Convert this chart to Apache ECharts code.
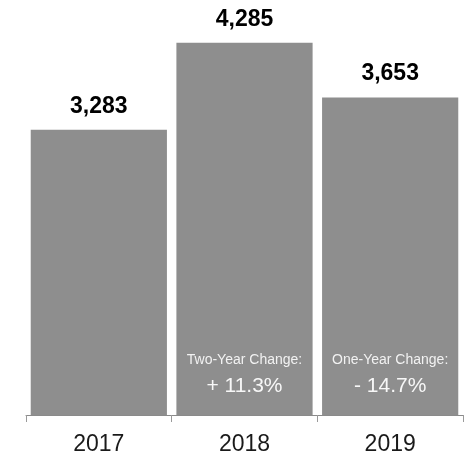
<!DOCTYPE html>
<html>
<head>
    <meta charset="UTF-8"/>
    <script type="text/javascript" src="https://cdn.jsdelivr.net/npm/echarts@6/dist/echarts.min.js"></script>
    <title>Counts by year</title>
    <style>
        html, body { margin: 0; padding: 0; background: #fff; }
        #main { width: 469px; height: 456px; }
    </style>
</head>
<body>
<div id="main"></div>
<script type="text/javascript">
    var years = ['2017', '2018', '2019']
    var counts = [3283, 4285, 3653]
    var changeTitles = ['', 'Two-Year Change:', 'One-Year Change:']
    var changeValues = ['', '+ 11.3%', '- 14.7%']

    var font = 'Liberation Sans, Arial, Helvetica, sans-serif'
    var myChart = echarts.init(document.getElementById('main'))

    var option = {
        animation: false,
        grid: {left: 26, right: 6, top: 24, bottom: 41},
        xAxis: {
            type: 'category',
            data: years,
            axisLine: {lineStyle: {color: '#8a8a8a', width: 1}},
            axisTick: {show: true, length: 7, lineStyle: {color: '#9a9a9a'}},
            axisLabel: {
                margin: 18,
                fontSize: 23,
                color: '#1a1a1a',
                fontFamily: font
            }
        },
        yAxis: {
            type: 'value',
            min: 0,
            max: 4500,
            show: false,
            splitLine: {show: false}
        },
        series: [
            {
                type: 'bar',
                data: counts,
                barCategoryGap: '6.5%',
                itemStyle: {color: '#8e8e8e'},
                label: {
                    show: true,
                    position: 'top',
                    distance: 12,
                    fontSize: 23,
                    fontWeight: 'bold',
                    color: '#000',
                    fontFamily: font,
                    formatter: function (p) {
                        return p.value.toLocaleString('en-US')
                    }
                }
            },
            {
                type: 'bar',
                data: counts,
                barGap: '-100%',
                barCategoryGap: '6.5%',
                silent: true,
                itemStyle: {color: 'rgba(0,0,0,0)'},
                label: {
                    show: true,
                    position: 'insideBottom',
                    distance: 14,
                    fontFamily: font,
                    formatter: function (p) {
                        if (!changeTitles[p.dataIndex]) return ''
                        return '{a|' + changeTitles[p.dataIndex] + '}\n{b|' + changeValues[p.dataIndex] + '}'
                    },
                    rich: {
                        a: {fontSize: 14, lineHeight: 22, color: '#f2f2f2', fontFamily: font},
                        b: {fontSize: 21, lineHeight: 30, color: '#f7f7f7', fontFamily: font}
                    }
                }
            }
        ]
    }
    myChart.setOption(option)
</script>
</body>
</html>
